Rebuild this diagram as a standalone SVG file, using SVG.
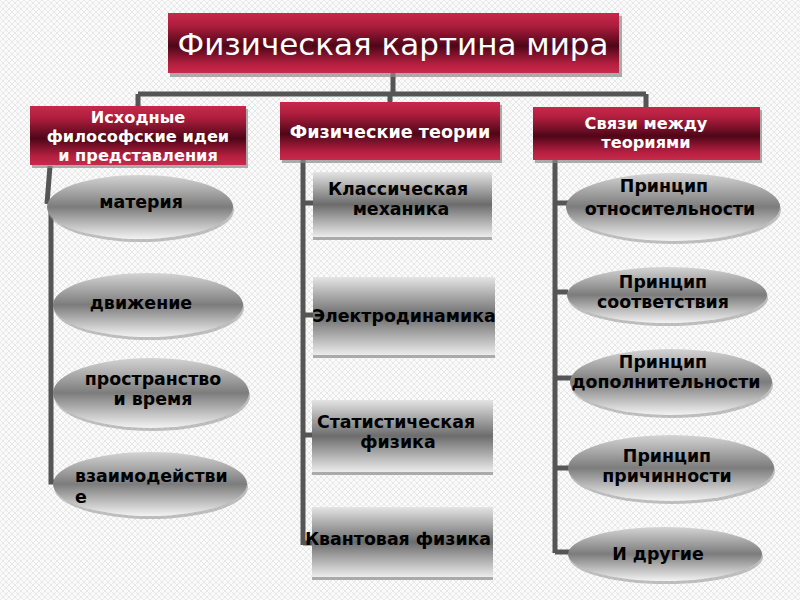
<svg xmlns="http://www.w3.org/2000/svg" width="800" height="600" viewBox="0 0 800 600">
<defs>
  <pattern id="bg" width="6" height="6" patternUnits="userSpaceOnUse">
    <rect width="6" height="6" fill="#fafafa"/>
    <path d="M0,0 L6,6 M6,0 L0,6" stroke="#e2e2e2" stroke-width="0.8"/>
  </pattern>
  <linearGradient id="red" x1="0" y1="0" x2="0" y2="1">
    <stop offset="0" stop-color="#c8284a"/>
    <stop offset="0.2" stop-color="#b01e3e"/>
    <stop offset="0.55" stop-color="#4e0618"/>
    <stop offset="0.85" stop-color="#b51f40"/>
    <stop offset="1" stop-color="#c82a4a"/>
  </linearGradient>
  <linearGradient id="metal" x1="0" y1="0" x2="0" y2="1">
    <stop offset="0" stop-color="#d4d4d4"/>
    <stop offset="0.5" stop-color="#7c7c7c"/>
    <stop offset="1" stop-color="#f3f3f3"/>
  </linearGradient>
  <linearGradient id="metalr" x1="0" y1="0" x2="0" y2="1">
    <stop offset="0" stop-color="#e4e4e4"/>
    <stop offset="0.5" stop-color="#6c6c6c"/>
    <stop offset="1" stop-color="#ececec"/>
  </linearGradient>
  <style>
    .hdr{fill:url(#red);}
    .hsh{fill:#8a8a8a;opacity:0.7;}
    .ell{fill:url(#metal);}
    .esh{fill:#9a9a9a;opacity:0.6;}
    .box{fill:url(#metalr);}
    .bsh{fill:#999;opacity:0.8;}
    .ht{font-family:"DejaVu Sans","Liberation Sans",sans-serif;font-weight:bold;font-size:16.2px;fill:#fff;text-anchor:middle;}
    .ht1{font-family:"DejaVu Sans","Liberation Sans",sans-serif;font-weight:bold;font-size:17.6px;fill:#fff;text-anchor:middle;}
    .t{font-family:"DejaVu Sans","Liberation Sans",sans-serif;font-weight:bold;font-size:17.4px;fill:#000;text-anchor:middle;}
    .tl{font-family:"DejaVu Sans","Liberation Sans",sans-serif;font-weight:bold;font-size:17.4px;fill:#000;}
    .title{font-family:"DejaVu Sans","Liberation Sans",sans-serif;font-size:31px;fill:#fff;text-anchor:middle;}
    .c{stroke:#555;stroke-width:5;fill:none;}
  </style>
</defs>
<rect width="800" height="600" fill="url(#bg)"/>

<g id="connectors">
  <path class="c" d="M393,73 V94 M138,94 H646 M138,94 V107 M390,94 V102 M646,94 V107"/>
  <path class="c" d="M50,166 L47,204 M51,204 V482 H56"/>
  <path class="c" d="M303,160 V545 M303,203 H314 M303,315 H314 M303,435 H314 M303,543 H312"/>
  <path class="c" d="M555,160 V553 M555,203 H570 M555,292 H568 M555,378 H572 M555,468 H570 M555,552 H570"/>
</g>

<g id="title">
  <rect class="hsh" x="170" y="16" width="452" height="61"/>
  <rect class="hdr" x="168" y="13" width="451" height="60"/>
  <text class="title" x="393" y="55">Физическая картина мира</text>
</g>

<g id="h-left">
  <rect class="hsh" x="32" y="109" width="216" height="59"/>
  <rect class="hdr" x="30" y="106" width="216" height="59"/>
  <text class="ht" x="138" y="123">Исходные</text>
  <text class="ht" x="138" y="142">философские идеи</text>
  <text class="ht" x="138" y="161">и представления</text>
</g>

<g id="h-mid">
  <rect class="hsh" x="282" y="105" width="220" height="58"/>
  <rect class="hdr" x="280" y="102" width="220" height="58"/>
  <text class="ht1" x="390" y="138">Физические теории</text>
</g>

<g id="h-right">
  <rect class="hsh" x="535" y="110" width="227" height="53"/>
  <rect class="hdr" x="533" y="107" width="227" height="53"/>
  <text class="ht" x="646" y="129">Связи между</text>
  <text class="ht" x="646" y="148">теориями</text>
</g>

<g id="n-materia">
  <ellipse class="esh" cx="141" cy="210" rx="93" ry="32"/>
  <ellipse class="ell" cx="140" cy="207" rx="93" ry="32"/>
  <text class="t" x="141" y="208">материя</text>
</g>
<g id="n-dvizhenie">
  <ellipse class="esh" cx="149" cy="308" rx="95" ry="32"/>
  <ellipse class="ell" cx="148" cy="305" rx="95" ry="32"/>
  <text class="t" x="141" y="309">движение</text>
</g>
<g id="n-prostranstvo">
  <ellipse class="esh" cx="152" cy="396" rx="98" ry="35"/>
  <ellipse class="ell" cx="151" cy="393" rx="98" ry="35"/>
  <text class="t" x="153" y="385">пространство</text>
  <text class="t" x="153" y="405">и время</text>
</g>
<g id="n-vzaimodeystvie">
  <ellipse class="esh" cx="151" cy="487" rx="97" ry="32"/>
  <ellipse class="ell" cx="150" cy="484" rx="97" ry="32"/>
  <text class="tl" x="75" y="482">взаимодействи</text>
  <text class="tl" x="75" y="503">е</text>
</g>

<g id="n-klass">
  <rect class="bsh" x="313" y="235" width="179" height="5"/>
  <rect class="box" x="313" y="172" width="179" height="65"/>
  <text class="t" x="398" y="195">Классическая</text>
  <text class="t" x="401" y="215">механика</text>
</g>
<g id="n-elektro">
  <rect class="bsh" x="313" y="353" width="182" height="5"/>
  <rect class="box" x="313" y="277" width="182" height="78"/>
  <text class="t" x="404" y="322">Электродинамика</text>
</g>
<g id="n-stat">
  <rect class="bsh" x="312" y="470" width="181" height="5"/>
  <rect class="box" x="312" y="400" width="181" height="72"/>
  <text class="t" x="396" y="428">Статистическая</text>
  <text class="t" x="398" y="448">физика</text>
</g>
<g id="n-kvant">
  <rect class="bsh" x="312" y="575" width="181" height="5"/>
  <rect class="box" x="312" y="507" width="181" height="70"/>
  <text class="t" x="398" y="545">Квантовая физика</text>
</g>

<g id="n-otnos">
  <ellipse class="esh" cx="674" cy="210" rx="107" ry="34"/>
  <ellipse class="ell" cx="673" cy="207" rx="107" ry="34"/>
  <text class="t" x="664" y="192">Принцип</text>
  <text class="t" x="670" y="215">относительности</text>
</g>
<g id="n-sootv">
  <ellipse class="esh" cx="668" cy="298" rx="100" ry="28"/>
  <ellipse class="ell" cx="667" cy="295" rx="100" ry="28"/>
  <text class="t" x="663" y="288">Принцип</text>
  <text class="t" x="663" y="308">соответствия</text>
</g>
<g id="n-dopoln">
  <ellipse class="esh" cx="672" cy="385" rx="101" ry="33"/>
  <ellipse class="ell" cx="671" cy="382" rx="101" ry="33"/>
  <text class="t" x="663" y="368">Принцип</text>
  <text class="t" x="666" y="388">дополнительности</text>
</g>
<g id="n-prichin">
  <ellipse class="esh" cx="672" cy="471" rx="103" ry="33"/>
  <ellipse class="ell" cx="671" cy="468" rx="103" ry="33"/>
  <text class="t" x="667" y="462">Принцип</text>
  <text class="t" x="667" y="482">причинности</text>
</g>
<g id="n-drugie">
  <ellipse class="esh" cx="666" cy="557" rx="97" ry="27"/>
  <ellipse class="ell" cx="665" cy="554" rx="97" ry="27"/>
  <text class="t" x="658" y="560">И другие</text>
</g>
</svg>
